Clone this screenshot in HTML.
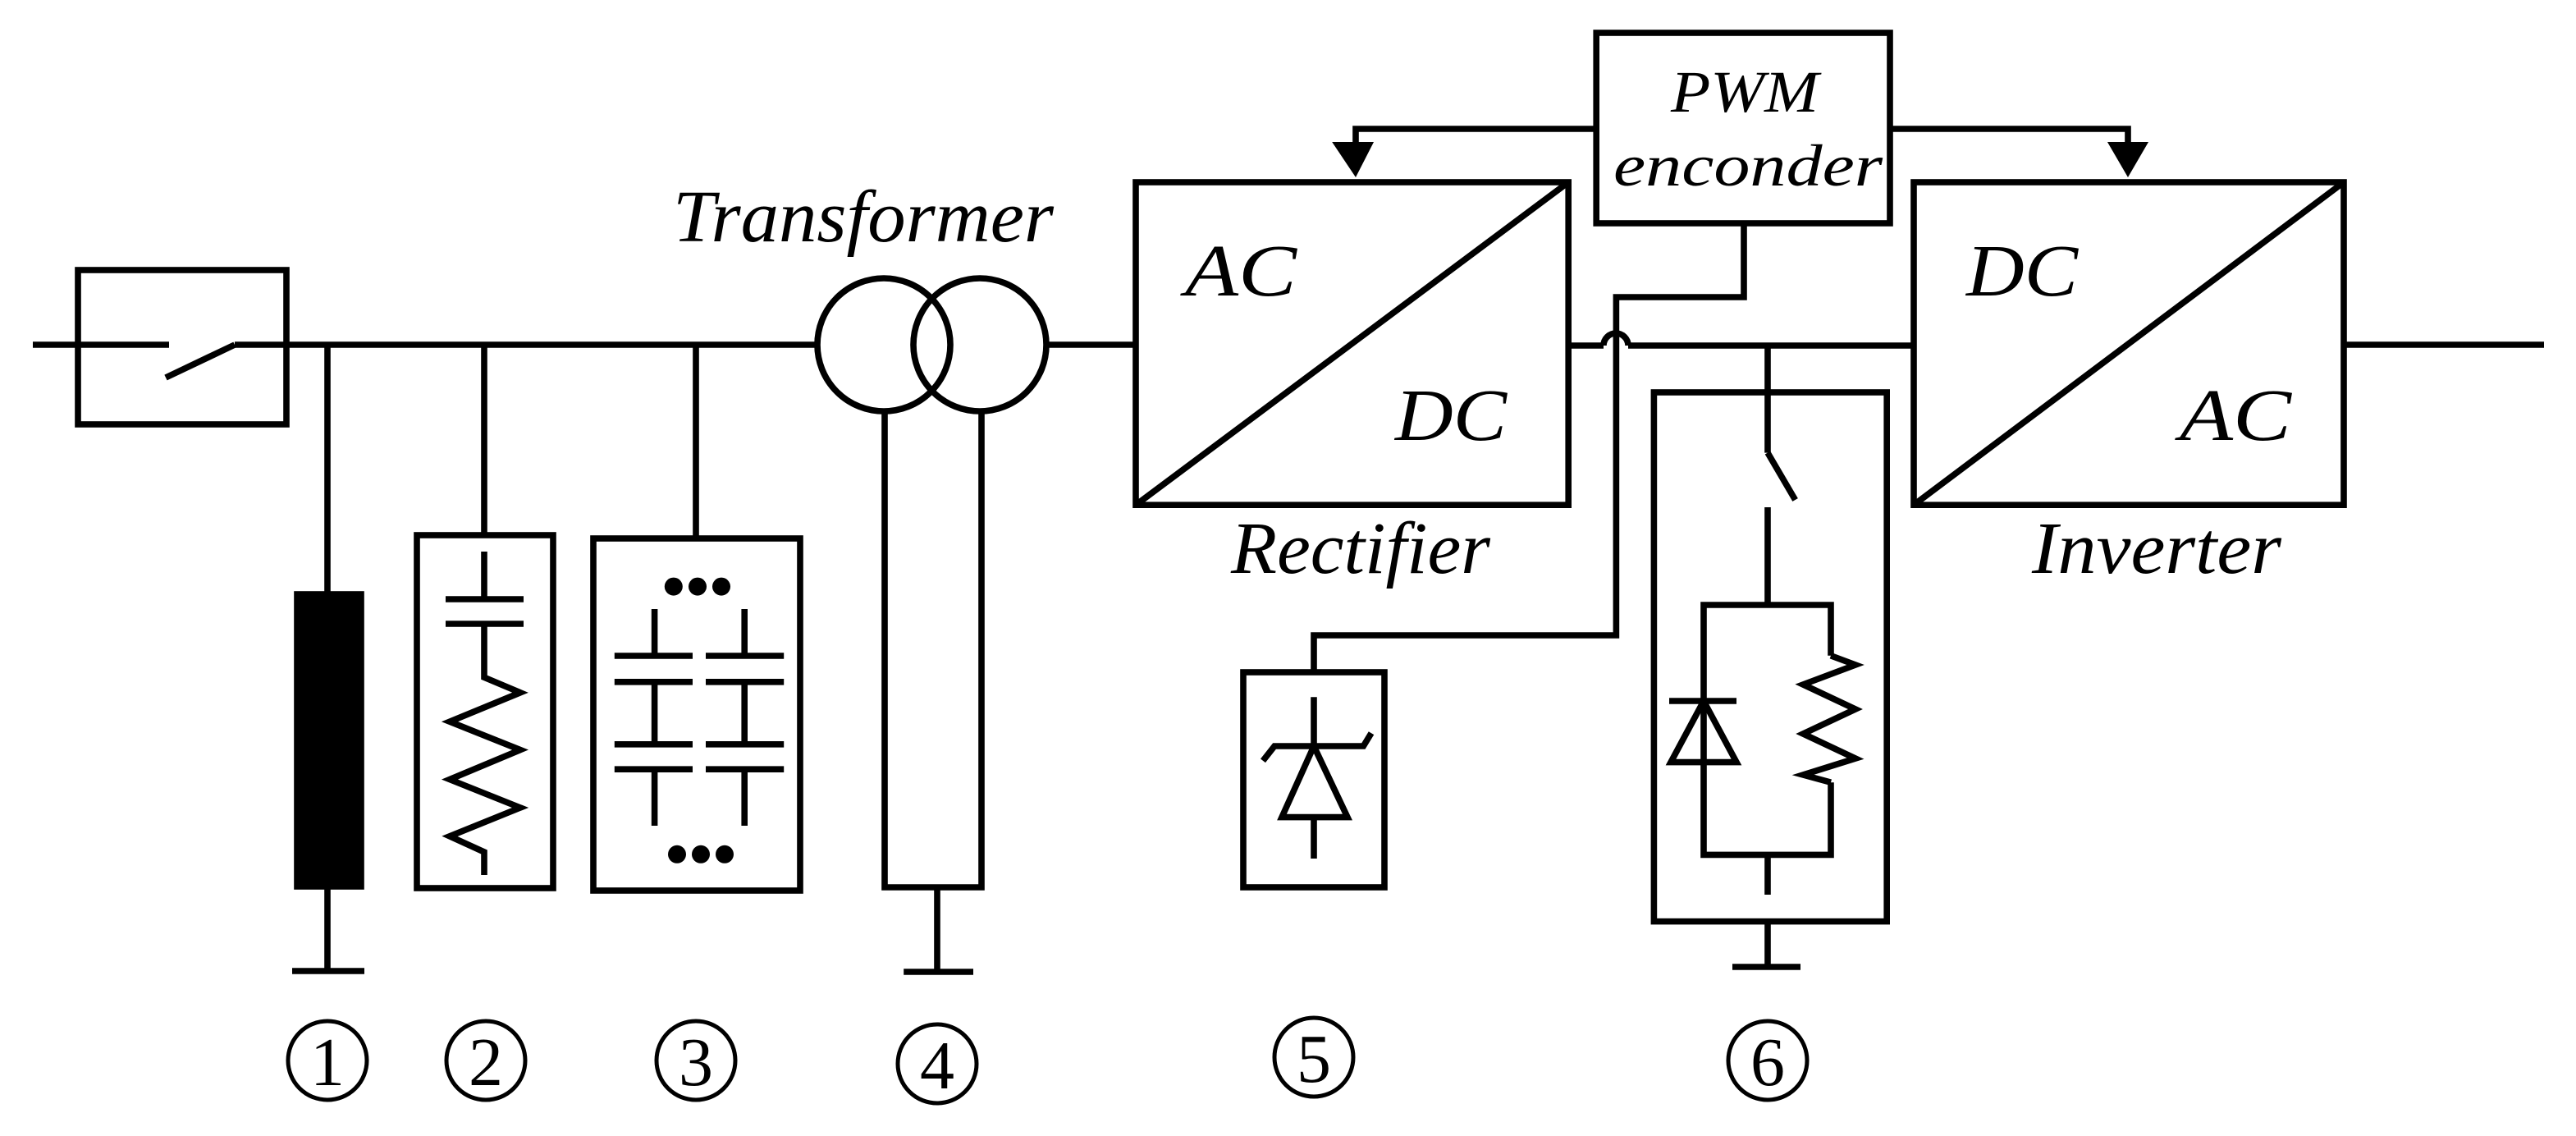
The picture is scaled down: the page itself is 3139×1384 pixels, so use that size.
<!DOCTYPE html>
<html><head><meta charset="utf-8"><style>
html,body{margin:0;padding:0;background:#fff;}
svg{display:block;}
text{font-family:"Liberation Serif",serif;font-style:italic;fill:#000;}
.n{font-style:normal;}
</style></head><body>
<svg width="3139" height="1384" viewBox="0 0 1569.5 692" xmlns="http://www.w3.org/2000/svg">
<g fill="none" stroke="#000" stroke-width="3.8" stroke-linecap="butt" stroke-linejoin="miter">
<rect x="47.5" y="164.5" width="127" height="94"/>
<line x1="20" y1="210" x2="103" y2="210"/>
<line x1="101" y1="230" x2="143" y2="210"/>
<line x1="143" y1="210" x2="498" y2="210"/>
<line x1="199.5" y1="210" x2="199.5" y2="362"/>
<rect x="181" y="362" width="39" height="178" fill="#000"/>
<line x1="199.5" y1="540" x2="199.5" y2="591"/>
<line x1="178" y1="591.5" x2="222" y2="591.5"/>
<line x1="295" y1="210" x2="295" y2="326"/>
<rect x="254" y="326" width="83" height="215"/>
<line x1="295" y1="336" x2="295" y2="365"/>
<line x1="271.5" y1="365" x2="319" y2="365"/>
<line x1="271.5" y1="380" x2="319" y2="380"/>
<polyline points="295,380 295,412.6 317,421.9 274,439.6 317,456.8 274,474.8 317,492 274,509.4 295,519 295,533"/>
<line x1="424" y1="210" x2="424" y2="328"/>
<rect x="361.5" y="328" width="126" height="214.5"/>
<line x1="398.8" y1="371" x2="398.8" y2="399.5"/><line x1="453.6" y1="371" x2="453.6" y2="399.5"/>
<line x1="374.4" y1="399.5" x2="422" y2="399.5"/><line x1="430" y1="399.5" x2="477.6" y2="399.5"/>
<line x1="374.4" y1="415.4" x2="422" y2="415.4"/><line x1="430" y1="415.4" x2="477.6" y2="415.4"/>
<line x1="398.8" y1="415.4" x2="398.8" y2="453.4"/><line x1="453.6" y1="415.4" x2="453.6" y2="453.4"/>
<line x1="374.4" y1="453.4" x2="422" y2="453.4"/><line x1="430" y1="453.4" x2="477.6" y2="453.4"/>
<line x1="374.4" y1="468.6" x2="422" y2="468.6"/><line x1="430" y1="468.6" x2="477.6" y2="468.6"/>
<line x1="398.8" y1="468.6" x2="398.8" y2="503"/><line x1="453.6" y1="468.6" x2="453.6" y2="503"/>
<circle cx="538.5" cy="210" r="40.5"/>
<circle cx="597" cy="210" r="40.5"/>
<polyline points="539,250 539,540.5 598,540.5 598,250"/>
<line x1="571" y1="540.5" x2="571" y2="592"/>
<line x1="550.6" y1="592" x2="593" y2="592"/>
<line x1="637.5" y1="210" x2="692" y2="210"/>
<rect x="692" y="111" width="263.6" height="196.6"/>
<line x1="692" y1="307.6" x2="955.6" y2="111"/>
<line x1="955.6" y1="210.5" x2="977" y2="210.5"/>
<path d="M977,210.5 A7.5,7.5 0 0 1 992,210.5"/>
<line x1="992" y1="210.5" x2="1166" y2="210.5"/>
<rect x="1166" y="111" width="262" height="196.6"/>
<line x1="1166" y1="307.6" x2="1428" y2="111"/>
<line x1="1428" y1="210" x2="1550" y2="210"/>
<rect x="972.6" y="20" width="178.9" height="116"/>
<polyline points="972.6,78.5 826,78.5 826,90"/>
<polyline points="1151.5,78.5 1296.5,78.5 1296.5,90"/>
<polyline points="1062.5,136 1062.5,181 984.7,181 984.7,387 800.5,387 800.5,409.5"/>
<rect x="757.5" y="409.5" width="86" height="131"/>
<line x1="800.5" y1="424.6" x2="800.5" y2="454.5"/>
<polyline points="769.5,463.4 776.5,454.5 830.7,454.5 835.5,446.6"/>
<polygon points="800.5,454.5 781,497.8 821,497.8"/>
<line x1="800.5" y1="497.8" x2="800.5" y2="523"/>
<rect x="1007.7" y="239" width="141.9" height="322.3"/>
<line x1="1077" y1="212" x2="1077" y2="275.8"/>
<line x1="1077" y1="275.8" x2="1093.8" y2="304.5"/>
<line x1="1077" y1="309" x2="1077" y2="368.5"/>
<polyline points="1115.5,399.4 1115.5,368.5 1038,368.5 1038,520.7 1115.5,520.7 1115.5,476.6"/>
<polyline points="1115.5,399.4 1130.5,405 1098.6,417 1130.5,432 1098.6,447 1130.5,462 1098.6,472 1115.5,476.6"/>
<line x1="1017" y1="427" x2="1058" y2="427"/>
<polygon points="1038,427 1018,464.3 1058,464.3"/>
<line x1="1077" y1="520.7" x2="1077" y2="545"/>
<line x1="1077" y1="561.3" x2="1077" y2="589"/>
<line x1="1055.5" y1="589" x2="1097" y2="589"/>
<circle cx="199.5" cy="646" r="24" stroke-width="2.5"/>
<circle cx="296" cy="646" r="24" stroke-width="2.5"/>
<circle cx="424" cy="646" r="24" stroke-width="2.5"/>
<circle cx="571" cy="648" r="24" stroke-width="2.5"/>
<circle cx="800.5" cy="644" r="24" stroke-width="2.5"/>
<circle cx="1077" cy="646" r="24" stroke-width="2.5"/>
</g>
<g fill="#000">
<polygon points="811.6,86.5 837,86.5 826,108"/>
<polygon points="1284,86.5 1309,86.5 1296.5,108"/>
<circle cx="410.4" cy="357.3" r="5.5"/><circle cx="425" cy="357.3" r="5.5"/><circle cx="439.5" cy="357.3" r="5.5"/>
<circle cx="412.5" cy="520.4" r="5.5"/><circle cx="427" cy="520.4" r="5.5"/><circle cx="441.5" cy="520.4" r="5.5"/>
</g>
<g font-size="45">
<text x="410" y="147" textLength="232" lengthAdjust="spacingAndGlyphs">Transformer</text>
<text x="722" y="180" textLength="68" lengthAdjust="spacingAndGlyphs">AC</text>
<text x="850" y="268" textLength="68" lengthAdjust="spacingAndGlyphs">DC</text>
<text x="750" y="349" textLength="158" lengthAdjust="spacingAndGlyphs">Rectifier</text>
<text x="1198" y="180" textLength="68" lengthAdjust="spacingAndGlyphs">DC</text>
<text x="1328" y="268" textLength="68" lengthAdjust="spacingAndGlyphs">AC</text>
<text x="1238" y="349" textLength="152" lengthAdjust="spacingAndGlyphs">Inverter</text>
</g>
<g font-size="36">
<text x="1018" y="68" textLength="90" lengthAdjust="spacingAndGlyphs">PWM</text>
<text x="983" y="113" textLength="164" lengthAdjust="spacingAndGlyphs">enconder</text>
</g>
<g font-size="42" text-anchor="middle">
<text class="n" x="199.5" y="661">1</text>
<text class="n" x="296" y="661">2</text>
<text class="n" x="424" y="661">3</text>
<text class="n" x="571" y="663">4</text>
<text class="n" x="800.5" y="659">5</text>
<text class="n" x="1077" y="661">6</text>
</g>
</svg>
</body></html>
